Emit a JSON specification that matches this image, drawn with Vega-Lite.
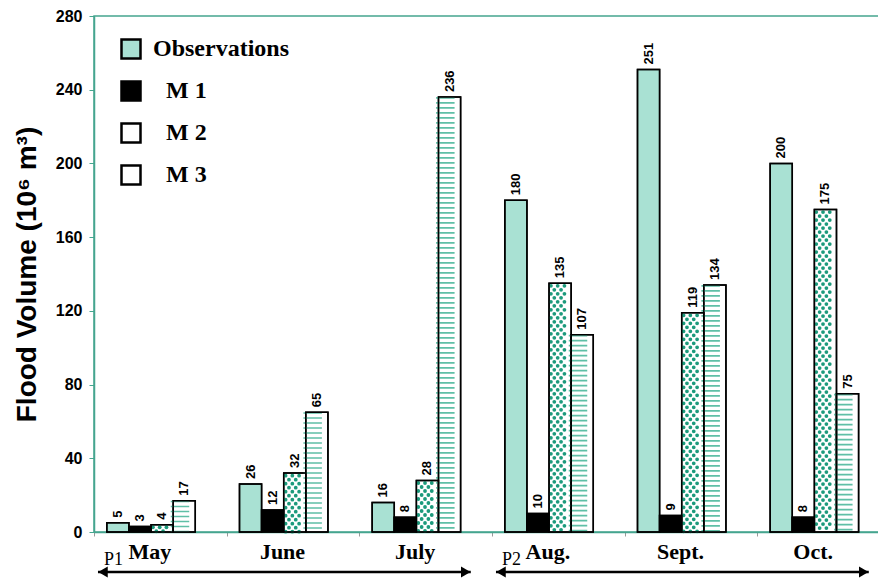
{
  "$schema": "https://vega.github.io/schema/vega-lite/v6.json",
  "width": 796,
  "height": 516,
  "autosize": {"type": "none"},
  "padding": {"left": 94, "top": 16, "right": -12, "bottom": 51},
  "background": "white",
  "config": {
    "font": "Liberation Sans",
    "view": {"stroke": "#45a58f", "strokeWidth": 1.5},
    "axis": {"grid": false, "domainColor": "#45a58f", "domainWidth": 1.5}
  },
  "datasets": {
    "flood": [
      {"month": "May", "series": "Observations", "value": 5},
      {"month": "May", "series": "M 1", "value": 3},
      {"month": "May", "series": "M 2", "value": 4},
      {"month": "May", "series": "M 3", "value": 17},
      {"month": "June", "series": "Observations", "value": 26},
      {"month": "June", "series": "M 1", "value": 12},
      {"month": "June", "series": "M 2", "value": 32},
      {"month": "June", "series": "M 3", "value": 65},
      {"month": "July", "series": "Observations", "value": 16},
      {"month": "July", "series": "M 1", "value": 8},
      {"month": "July", "series": "M 2", "value": 28},
      {"month": "July", "series": "M 3", "value": 236},
      {"month": "Aug.", "series": "Observations", "value": 180},
      {"month": "Aug.", "series": "M 1", "value": 10},
      {"month": "Aug.", "series": "M 2", "value": 135},
      {"month": "Aug.", "series": "M 3", "value": 107},
      {"month": "Sept.", "series": "Observations", "value": 251},
      {"month": "Sept.", "series": "M 1", "value": 9},
      {"month": "Sept.", "series": "M 2", "value": 119},
      {"month": "Sept.", "series": "M 3", "value": 134},
      {"month": "Oct.", "series": "Observations", "value": 200},
      {"month": "Oct.", "series": "M 1", "value": 8},
      {"month": "Oct.", "series": "M 2", "value": 175},
      {"month": "Oct.", "series": "M 3", "value": 75}
    ],
    "periods": [
      {"period": "P1", "from": "May", "to": "July"},
      {"period": "P2", "from": "Aug.", "to": "Oct."}
    ]
  },
  "layer": [
    {
      "data": {"name": "flood"},
      "mark": {"type": "bar", "stroke": "black", "strokeWidth": 1.5},
      "encoding": {
        "x": {
          "field": "month", "type": "nominal",
          "sort": ["May", "June", "July", "Aug.", "Sept.", "Oct."],
          "scale": {"domain": ["May", "June", "July", "Aug.", "Sept.", "Oct."], "paddingInner": 0, "paddingOuter": 0},
          "axis": {
            "title": null, "tickBand": "extent", "tickSize": 4, "tickColor": "#9a9a9a",
            "labelOffset": -11, "labelAngle": 0, "labelPadding": 5,
            "labelFont": "Liberation Serif", "labelFontWeight": "bold", "labelFontSize": 22, "labelColor": "black"
          }
        },
        "xOffset": {
          "field": "series", "type": "nominal",
          "sort": ["Observations", "M 1", "M 2", "M 3"],
          "scale": {"domain": ["Observations", "M 1", "M 2", "M 3"], "paddingInner": 0, "paddingOuter": 1.266, "align": 0.29}
        },
        "y": {
          "field": "value", "type": "quantitative",
          "scale": {"domain": [0, 280], "nice": false},
          "axis": {
            "title": "Flood Volume (10⁶ m³)",
            "values": [0, 40, 80, 120, 160, 200, 240, 280],
            "tickSize": 5, "tickColor": "#45a58f", "labelPadding": 7,
            "labelFont": "Liberation Sans", "labelFontWeight": "bold", "labelFontSize": 16, "labelColor": "black",
            "titleFont": "Liberation Sans", "titleFontWeight": "bold", "titleFontSize": 28, "titleColor": "black", "titlePadding": 14
          }
        },
        "fill": {
          "field": "series", "type": "nominal",
          "scale": {"domain": ["Observations", "M 1", "M 2", "M 3"], "range": ["#a9e1d3", "#000000", "#ffffff", "#ffffff"]},
          "legend": {
            "orient": "none", "legendX": 25, "legendY": 21, "title": null, "padding": 0,
            "symbolType": "square", "symbolSize": 361, "symbolStrokeColor": "black", "symbolStrokeWidth": 2.5, "symbolOpacity": 1,
            "labelFont": "Liberation Serif", "labelFontWeight": "bold", "labelFontSize": 24, "labelColor": "black",
            "labelOffset": 10, "rowPadding": 12,
            "encode": {
              "symbols": {
                "update": {
                  "stroke": {"value": "black"},
                  "strokeWidth": {"value": 2.5},
                  "fill": {"signal": "datum.value === 'M 3' ? '#c9ebe2' : datum.value === 'M 2' ? '#d6f0e9' : datum.value === 'M 1' ? '#000000' : '#a9e1d3'"}
                }
              },
              "labels": {
                "update": {
                  "dx": [
                    {"test": "datum.value === 'Observations'", "value": 0},
                    {"value": 13}
                  ]
                }
              }
            }
          }
        }
      }
    },
    {
      "data": {"name": "flood"},
      "transform": [{"filter": "datum.series === 'M 3'"}],
      "mark": {"type": "rule", "stroke": "#5fbfa6", "strokeWidth": 18.5, "strokeDash": [1.6, 3.4], "strokeCap": "butt"},
      "encoding": {
        "x": {"field": "month", "type": "nominal", "bandPosition": 0.6482, "title": null},
        "y": {"field": "value", "type": "quantitative", "title": "Flood Volume (10⁶ m³)"},
        "y2": {"datum": 0}
      }
    },
    {
      "data": {"name": "flood"},
      "transform": [{"filter": "datum.series === 'M 2'"}],
      "mark": {"type": "rule", "stroke": "#1c9a7c", "strokeWidth": 3.8, "strokeCap": "round", "strokeDash": [0.01, 7.99], "strokeDashOffset": -2.6},
      "encoding": {
        "x": {"field": "month", "type": "nominal", "bandPosition": 0.4442, "title": null},
        "y": {"field": "value", "type": "quantitative", "title": "Flood Volume (10⁶ m³)"},
        "y2": {"datum": 0}
      }
    },
    {
      "data": {"name": "flood"},
      "transform": [{"filter": "datum.series === 'M 2'"}],
      "mark": {"type": "rule", "stroke": "#1c9a7c", "strokeWidth": 3.8, "strokeCap": "round", "strokeDash": [0.01, 7.99], "strokeDashOffset": -2.6},
      "encoding": {
        "x": {"field": "month", "type": "nominal", "bandPosition": 0.4951, "title": null},
        "y": {"field": "value", "type": "quantitative", "title": "Flood Volume (10⁶ m³)"},
        "y2": {"datum": 0}
      }
    },
    {
      "data": {"name": "flood"},
      "transform": [{"filter": "datum.series === 'M 2'"}],
      "mark": {"type": "rule", "stroke": "#1c9a7c", "strokeWidth": 3.8, "strokeCap": "round", "strokeDash": [0.01, 7.99], "strokeDashOffset": -2.6},
      "encoding": {
        "x": {"field": "month", "type": "nominal", "bandPosition": 0.546, "title": null},
        "y": {"field": "value", "type": "quantitative", "title": "Flood Volume (10⁶ m³)"},
        "y2": {"datum": 0}
      }
    },
    {
      "data": {"name": "flood"},
      "transform": [{"filter": "datum.series === 'M 2'"}],
      "mark": {"type": "rule", "stroke": "#1c9a7c", "strokeWidth": 3.8, "strokeCap": "round", "strokeDash": [0.01, 7.99], "strokeDashOffset": -6.6},
      "encoding": {
        "x": {"field": "month", "type": "nominal", "bandPosition": 0.4696, "title": null},
        "y": {"field": "value", "type": "quantitative", "title": "Flood Volume (10⁶ m³)"},
        "y2": {"datum": 0}
      }
    },
    {
      "data": {"name": "flood"},
      "transform": [{"filter": "datum.series === 'M 2'"}],
      "mark": {"type": "rule", "stroke": "#1c9a7c", "strokeWidth": 3.8, "strokeCap": "round", "strokeDash": [0.01, 7.99], "strokeDashOffset": -6.6},
      "encoding": {
        "x": {"field": "month", "type": "nominal", "bandPosition": 0.5206, "title": null},
        "y": {"field": "value", "type": "quantitative", "title": "Flood Volume (10⁶ m³)"},
        "y2": {"datum": 0}
      }
    },
    {
      "data": {"name": "flood"},
      "mark": {"type": "bar", "fill": null, "fillOpacity": 0, "stroke": "black", "strokeWidth": 1.5},
      "encoding": {
        "x": {"field": "month", "type": "nominal", "title": null},
        "xOffset": {"field": "series", "type": "nominal"},
        "y": {"field": "value", "type": "quantitative", "title": "Flood Volume (10⁶ m³)"}
      }
    },
    {
      "data": {"name": "flood"},
      "mark": {"type": "text", "angle": 270, "align": "left", "baseline": "middle", "dx": 5, "font": "Liberation Sans", "fontWeight": "bold", "fontSize": 13, "fill": "black"},
      "encoding": {
        "x": {"field": "month", "type": "nominal", "title": null},
        "xOffset": {"field": "series", "type": "nominal"},
        "y": {"field": "value", "type": "quantitative", "title": "Flood Volume (10⁶ m³)"},
        "text": {"field": "value", "type": "quantitative"}
      }
    },
    {
      "data": {"name": "periods"},
      "mark": {"type": "rule", "stroke": "black", "strokeWidth": 2.5},
      "encoding": {
        "x": {"field": "from", "type": "nominal", "bandPosition": 0.03, "title": null},
        "x2": {"field": "to", "bandPosition": 0.84},
        "y": {"datum": -21.7, "title": "Flood Volume (10⁶ m³)"}
      }
    },
    {
      "data": {"name": "periods"},
      "mark": {"type": "point", "shape": "triangle-left", "size": 120, "filled": true, "fill": "black", "stroke": null, "opacity": 1, "xOffset": 5},
      "encoding": {
        "x": {"field": "from", "type": "nominal", "bandPosition": 0.03, "title": null},
        "y": {"datum": -21.7, "title": "Flood Volume (10⁶ m³)"}
      }
    },
    {
      "data": {"name": "periods"},
      "mark": {"type": "point", "shape": "triangle-right", "size": 120, "filled": true, "fill": "black", "stroke": null, "opacity": 1, "xOffset": -5},
      "encoding": {
        "x": {"field": "to", "type": "nominal", "bandPosition": 0.84, "title": null},
        "y": {"datum": -21.7, "title": "Flood Volume (10⁶ m³)"}
      }
    },
    {
      "data": {"name": "periods"},
      "mark": {"type": "text", "align": "left", "baseline": "alphabetic", "dx": 6, "dy": -7, "font": "Liberation Serif", "fontSize": 18, "fill": "black"},
      "encoding": {
        "x": {"field": "from", "type": "nominal", "bandPosition": 0.03, "title": null},
        "y": {"datum": -21.7, "title": "Flood Volume (10⁶ m³)"},
        "text": {"field": "period", "type": "nominal"}
      }
    }
  ]
}
